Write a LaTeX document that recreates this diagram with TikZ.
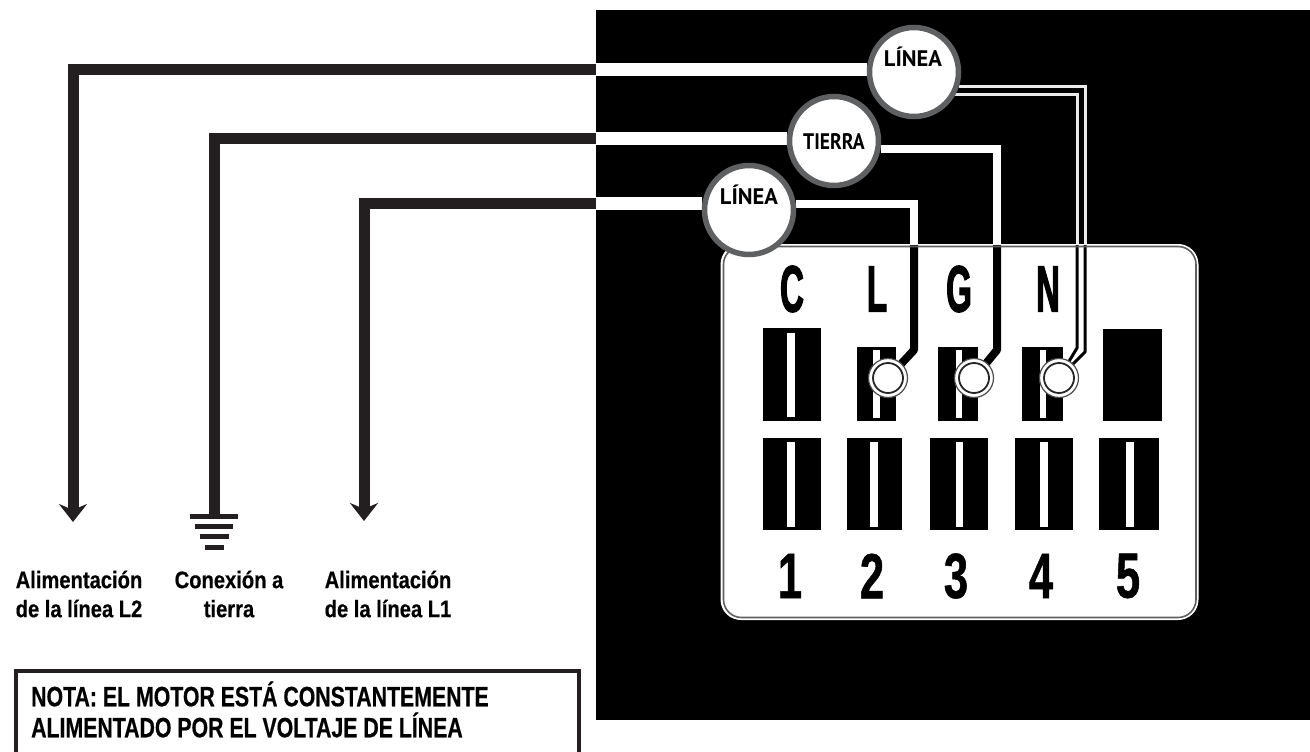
\documentclass[tikz,border=0pt]{standalone}
\usepackage{fontspec}
\setmainfont{Liberation Sans}
\newfontfamily\circfont{PT Sans}
\newfontfamily\circnarrow[FakeStretch=0.87,BoldFeatures={FakeStretch=0.87}]{PT Sans}
\newfontfamily\termfont[FakeStretch=0.5,BoldFeatures={FakeStretch=0.5,FakeBold=1.6}]{Liberation Sans}
\newfontfamily\numfont[FakeStretch=0.68,BoldFeatures={FakeStretch=0.68,FakeBold=0.8}]{Liberation Sans}
\newfontfamily\lblfont[FakeStretch=0.84,BoldFeatures={FakeStretch=0.84,FakeBold=0.4}]{Liberation Sans}
\newfontfamily\notefont[FakeStretch=0.76,BoldFeatures={FakeStretch=0.76,FakeBold=0.5}]{Liberation Sans}
\usetikzlibrary{arrows.meta}
\pgfdeclarelayer{front}
\pgfsetlayers{main,front}
\definecolor{wireblk}{HTML}{231F20}
\definecolor{ringgray}{HTML}{5F6062}
\tikzset{
  x=1pt,y=-1pt,
  darkwire/.style={draw=wireblk,line width=11pt},
  arrowwire/.style={darkwire,-{Stealth[length=18pt,width=28pt,inset=6pt]}},
  whitebar/.style={draw=white,line width=13pt},
  bubble/.style={circle,draw=ringgray,fill=white,line width=5.5pt,minimum size=89pt,inner sep=0pt},
  bubbletext/.style={inner sep=0pt,font=\circfont\fontsize{22.5}{22.5}\selectfont\bfseries,text=black},
  bubblenarrow/.style={inner sep=0pt,font=\circnarrow\fontsize{22.5}{22.5}\selectfont\bfseries,text=black},
  thickwire/.style={draw=white,line width=8pt},
  thinwire/.style={draw=white!92!black,line width=3pt},
  thickblk/.style={draw=black,line width=8pt,line join=round},
  thinblk/.style={draw=black,line width=3pt,line join=round},
  slot/.style={fill=black},
  stripe/.style={fill=white},
  screwout/.style={circle,draw=black!70,fill=white,line width=1.2pt,minimum size=39pt,inner sep=0pt},
  screwin/.style={circle,draw=black!85,fill=white,line width=1.8pt,minimum size=30pt,inner sep=0pt},
  termletter/.style={inner sep=0pt,font=\termfont\fontsize{66}{66}\selectfont\bfseries},
  termnum/.style={inner sep=0pt,font=\numfont\fontsize{64}{64}\selectfont\bfseries},
  feedlabel/.style={inner sep=0pt,align=center,font=\lblfont\fontsize{24}{29}\selectfont\bfseries},
  notetext/.style={inner sep=0pt,anchor=west,font=\notefont\fontsize{28}{32}\selectfont\bfseries},
}
\begin{document}
\begin{tikzpicture}
\useasboundingbox (0,0) rectangle (1310,752);
% black panel
\fill[black] (596,10) rectangle (1310,720);
% terminal board
\node[draw=white,fill=white,line width=1pt,rounded corners=20pt,minimum width=477pt,minimum height=375pt,inner sep=0pt,anchor=north west] (board) at (720.5,244) {};
% bubbles
\begin{pgfonlayer}{front}
\node[bubble] (bubA) at (914,72) {};
\node[bubble] (bubB) at (834,141) {};
\node[bubble] (bubC) at (749,210) {};
\node[bubbletext] (txtA) at (913,57) {LÍNEA};
\node[bubblenarrow] (txtB) at (834,142) {TIERRA};
\node[bubbletext] (txtC) at (749,195) {LÍNEA};
\end{pgfonlayer}
% feed ends and panel joints
\coordinate (endL2) at (73,522);
\coordinate (endG) at (214,516);
\coordinate (endL1) at (364,521);
\coordinate (joinA) at (596,70);
\coordinate (joinB) at (596,138);
\coordinate (joinC) at (596,203);
\draw[arrowwire] (joinA) -| (endL2);
\draw[darkwire] (joinB) -| (endG);
\draw[arrowwire] (joinC) -| (endL1);
\draw[whitebar] (joinA) -- (joinA -| bubA.west);
\draw[whitebar] (joinB) -- (joinB -| bubB.west);
\draw[whitebar] (joinC) -- (joinC -| bubC.west);
% ground symbol
\node[fill=wireblk,minimum width=48pt,minimum height=5pt,inner sep=0pt] (g1) at (214,516) {};
\node[fill=wireblk,minimum width=38pt,minimum height=5pt,inner sep=0pt] (g2) at (214,526) {};
\node[fill=wireblk,minimum width=29pt,minimum height=5pt,inner sep=0pt] (g3) at (214,536) {};
\node[fill=wireblk,minimum width=19pt,minimum height=5pt,inner sep=0pt] (g4) at (214,547) {};
% slots upper row
\fill[slot] (763,328) rectangle (821,421);
\fill[stripe] (787,333) rectangle (795,417);
\fill[slot] (857,347) rectangle (896,421);
\fill[stripe] (873,350) rectangle (880,418);
\fill[slot] (938,347) rectangle (978,421);
\fill[stripe] (956,350) rectangle (962,418);
\fill[slot] (1022,347) rectangle (1063,421);
\fill[stripe] (1040,350) rectangle (1046,418);
\fill[slot] (1103,329) rectangle (1162,421);
% slots lower row
\fill[slot] (763,438) rectangle (821,530);
\fill[stripe] (787,442) rectangle (795,527);
\fill[slot] (847,438) rectangle (902,530);
\fill[stripe] (870,442) rectangle (878,527);
\fill[slot] (930,438) rectangle (988,530);
\fill[stripe] (956,442) rectangle (963,527);
\fill[slot] (1015,438) rectangle (1073,530);
\fill[stripe] (1040,442) rectangle (1048,527);
\fill[slot] (1099,438) rectangle (1159,530);
\fill[stripe] (1126,442) rectangle (1134,527);
% wires on black
\coordinate (topC) at (914,245);
\coordinate (topB) at (997,245);
\coordinate (topAo) at (1085,245);
\coordinate (topAi) at (1077,245);
\coordinate (scrLc) at (888,378);
\coordinate (scrGc) at (974,378);
\coordinate (scrNc) at (1059,378);
\draw[thickwire] (bubC.7) -| (topC);
\draw[thickwire] (bubB.-10) -| (topB);
\draw[thinwire] (bubA.-18) -| (topAo);
\draw[thinwire] (bubA.-29) -| (topAi);
% wires inside board
\coordinate (kneeC) at (914,350);
\coordinate (kneeB) at (997,350);
\coordinate (kneeAo) at (1085,352);
\coordinate (kneeAi) at (1077,348);
\draw[thickblk] (topC) -- (kneeC) -- (scrLc);
\draw[thickblk] (topB) -- (kneeB) -- (scrGc);
\draw[thinblk] (topAo) -- (kneeAo) -- (scrNc);
\draw[thinblk] (topAi) -- (kneeAi) -- (scrNc);
% screws
\node[screwout] (scrL) at (scrLc) {};
\node[screwout] (scrG) at (scrGc) {};
\node[screwout] (scrN) at (scrNc) {};
\node[screwin] (scrLi) at (scrLc) {};
\node[screwin] (scrGi) at (scrGc) {};
\node[screwin] (scrNi) at (scrNc) {};
% board edge
\draw[draw=ringgray,line width=1.6pt,rounded corners=18pt] (723.5,246.5) rectangle (1196,617.5);
% terminal letters and numbers
\node[termletter] (lC) at (792,289) {C};
\node[termletter] (lL) at (877,289) {L};
\node[termletter] (lG) at (959,289) {G};
\node[termletter] (lN) at (1048,289) {N};
\node[termnum] (n1) at (790,576) {1};
\node[termnum] (n2) at (872,576) {2};
\node[termnum] (n3) at (956,576) {3};
\node[termnum] (n4) at (1041,576) {4};
\node[termnum] (n5) at (1128,576) {5};
% feed labels
\node[feedlabel] (fL2) at (79,594) {Alimentación\\de la línea L2};
\node[feedlabel] (fG) at (229,594) {Conexión a\\tierra};
\node[feedlabel] (fL1) at (388,594) {Alimentación\\de la línea L1};
% note box
\coordinate (noteBL) at (16,752);
\coordinate (noteTL) at (16,671);
\coordinate (noteTR) at (579,671);
\coordinate (noteBR) at (579,752);
\draw[wireblk,line width=3.5pt] (noteBL) -- (noteTL) -- (noteTR) -- (noteBR);
\node[notetext] (note1) at (31,694) {NOTA: EL MOTOR ESTÁ CONSTANTEMENTE};
\node[notetext] (note2) at (31,725) {ALIMENTADO POR EL VOLTAJE DE LÍNEA};
\end{tikzpicture}
\end{document}
